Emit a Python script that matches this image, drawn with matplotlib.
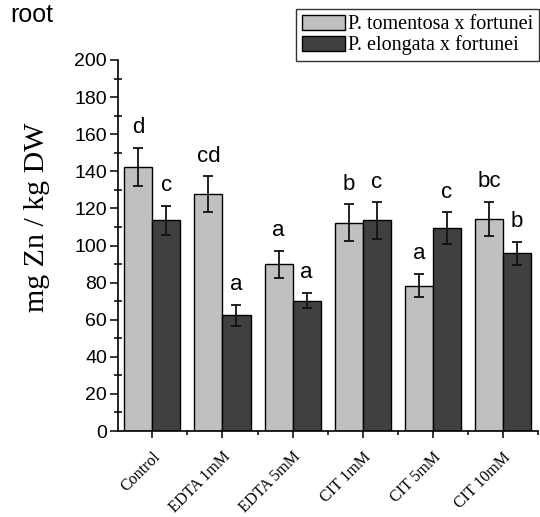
import matplotlib
matplotlib.use("Agg")
import matplotlib.pyplot as plt
from matplotlib.ticker import MultipleLocator, FixedLocator
import numpy as np

categories = ["Control", "EDTA 1mM", "EDTA 5mM", "CIT 1mM", "CIT 5mM", "CIT 10mM"]
series_names = ["P. tomentosa x fortunei", "P. elongata x fortunei"]
tomentosa = [142.5, 127.8, 89.8, 112.2, 78.3, 114.5]
tomentosa_err = [10.2, 9.5, 7.2, 10.0, 6.3, 9.2]
elongata = [113.5, 62.3, 70.3, 113.5, 109.2, 95.7]
elongata_err = [8.0, 5.8, 4.2, 9.8, 8.6, 6.3]
tomentosa_letters = ["d", "cd", "a", "b", "a", "bc"]
elongata_letters = ["c", "a", "a", "c", "c", "b"]

fig = plt.figure(figsize=(5.4, 5.17), dpi=100)
ax = fig.add_axes([118/540, 1-431/517, (538-118)/540, (431-60)/517])

x = np.arange(1, len(categories) + 1)
w = 0.4
ax.bar(x - w/2, tomentosa, w, color="#c0c0c0", edgecolor="black", linewidth=1.0,
       label=series_names[0], zorder=2)
ax.bar(x + w/2, elongata, w, color="#404040", edgecolor="black", linewidth=1.0,
       label=series_names[1], zorder=2)
ax.errorbar(x - w/2, tomentosa, yerr=tomentosa_err, fmt="none", ecolor="#111111",
            elinewidth=1.3, capsize=3.5, capthick=1.3, zorder=3)
ax.errorbar(x + w/2, elongata, yerr=elongata_err, fmt="none", ecolor="#111111",
            elinewidth=1.3, capsize=3.5, capthick=1.3, zorder=3)

for xi, v, e, l in zip(x - w/2, tomentosa, tomentosa_err, tomentosa_letters):
    ax.annotate(l, (xi, v + e), xytext=(0, 7), textcoords="offset points",
                ha="center", va="bottom", fontsize=16, family="Liberation Sans")
for xi, v, e, l in zip(x + w/2, elongata, elongata_err, elongata_letters):
    ax.annotate(l, (xi, v + e), xytext=(0, 7), textcoords="offset points",
                ha="center", va="bottom", fontsize=16, family="Liberation Sans")

ax.set_xlim(0.51, 6.5)
ax.set_ylim(0, 200)
ax.spines["top"].set_visible(False)
ax.spines["right"].set_visible(False)
ax.spines["left"].set_linewidth(1.2)
ax.spines["bottom"].set_linewidth(1.2)

ax.yaxis.set_major_locator(MultipleLocator(20))
ax.yaxis.set_minor_locator(MultipleLocator(10))
ax.tick_params(axis="y", which="major", direction="out", length=6, width=1.1,
               labelsize=14, pad=2)
ax.tick_params(axis="y", which="minor", direction="inout", length=6, width=1.1)
for t in ax.get_yticklabels():
    t.set_family("Liberation Sans")

ax.set_xticks(x)
ax.xaxis.set_minor_locator(FixedLocator(x + 0.5))
ax.set_xticklabels(categories, rotation=45, ha="right", rotation_mode="anchor",
                   family="Liberation Serif", fontsize=11.5)
ax.tick_params(axis="x", which="major", direction="out", length=5, width=1.1, pad=8)
ax.tick_params(axis="x", which="minor", direction="out", length=3, width=1.1)

ax.set_ylabel("mg Zn / kg DW", family="Liberation Serif", fontsize=21.5)
ax.yaxis.set_label_coords(-0.162, 0.575)

leg = ax.legend(loc="upper right", bbox_to_anchor=(539/540, 1-9/517),
                bbox_transform=fig.transFigure, frameon=True, fancybox=False,
                prop={"family": "Liberation Serif", "size": 14.5},
                handlelength=2.1, handleheight=0.75, handletextpad=0.15,
                borderpad=0.3, labelspacing=0.05, borderaxespad=0)
leg.get_frame().set_edgecolor("black")
leg.get_frame().set_linewidth(1.0)

fig.text(10/540, 1-22/517, "root", family="Liberation Sans", fontsize=18,
         ha="left", va="baseline")

fig.savefig("out.png", dpi=100)
